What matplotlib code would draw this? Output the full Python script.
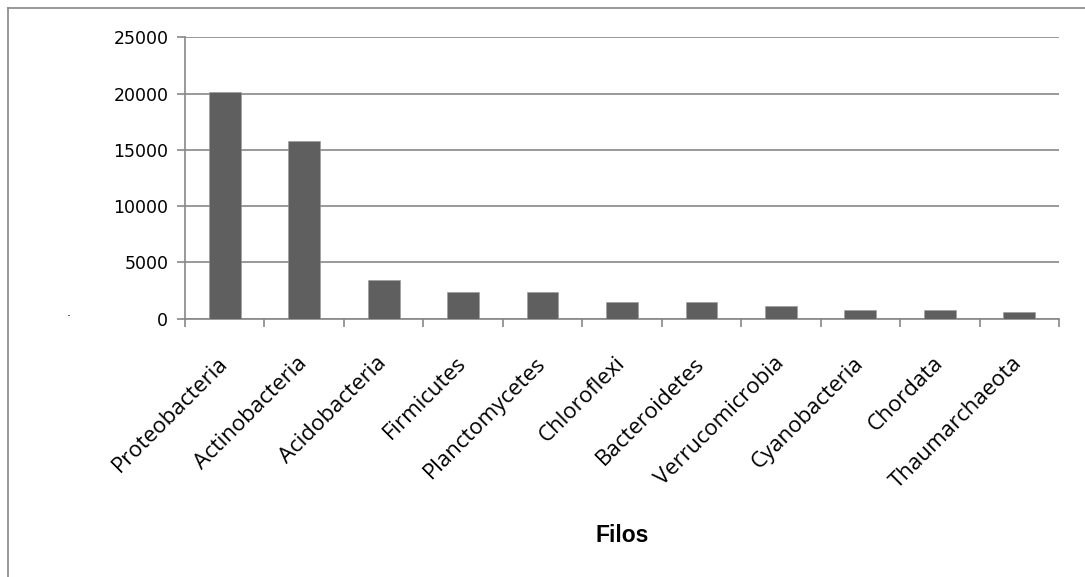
import matplotlib.pyplot as plt
from matplotlib.lines import Line2D

phyla = [
    "Proteobacteria",
    "Actinobacteria",
    "Acidobacteria",
    "Firmicutes",
    "Planctomycetes",
    "Chloroflexi",
    "Bacteroidetes",
    "Verrucomicrobia",
    "Cyanobacteria",
    "Chordata",
    "Thaumarchaeota",
]
counts = [20100, 15800, 3430, 2370, 2370, 1450, 1450, 1120, 770, 770, 590]
y_ticks = [0, 5000, 10000, 15000, 20000, 25000]

GRAY = "#878787"
BAR = "#5f5f5f"

W, H = 1085, 577
fig = plt.figure(figsize=(W / 100, H / 100), dpi=100)
ax = fig.add_axes([185 / W, 1 - 318.7 / H, (1059 - 185) / W, (318.7 - 37.3) / H])

x = list(range(len(phyla)))
ax.bar(x, counts, width=0.4, color=BAR, edgecolor="#9a9a9a", linewidth=0.4, zorder=3)

ax.set_xlim(-0.5, len(phyla) - 0.5)
ax.set_ylim(0, 25000)
ax.set_yticks(y_ticks)
ax.set_yticklabels([str(v) for v in y_ticks], fontsize=12.5, family="DejaVu Sans")
ax.yaxis.grid(True, color=GRAY, linewidth=1.2, zorder=0)
ax.tick_params(axis="y", length=6, width=1.2, color=GRAY, pad=6)

# category boundary ticks, labels at centres
ax.set_xticks([i - 0.5 for i in range(len(phyla) + 1)])
ax.set_xticklabels([])
ax.tick_params(axis="x", length=6, width=1.2, color=GRAY)
ax.set_xticks(x, minor=True)
ax.set_xticklabels(phyla, minor=True, rotation=45, ha="right", va="center",
                   rotation_mode="anchor", fontsize=16, family="Open Sans")
ax.tick_params(axis="x", which="minor", length=0, pad=30)

for side in ["top", "right"]:
    ax.spines[side].set_visible(False)
for side in ["left", "bottom"]:
    ax.spines[side].set_color(GRAY)
    ax.spines[side].set_linewidth(1.2)

fig.text(622 / W, 1 - 536 / H, "Filos", ha="center", va="center",
         fontsize=16.5, fontweight="bold", family="Liberation Sans")
fig.text(69 / W, 1 - 312 / H, ".", ha="center", va="center", fontsize=9)

# outer chart frame (left and top edges)
fig.add_artist(Line2D([8 / W, 8 / W], [0, 1 - 8 / H], transform=fig.transFigure,
                      color=GRAY, linewidth=1.2))
fig.add_artist(Line2D([8 / W, 1], [1 - 8 / H, 1 - 8 / H], transform=fig.transFigure,
                      color=GRAY, linewidth=1.2))

fig.savefig("out.png", dpi=100)
